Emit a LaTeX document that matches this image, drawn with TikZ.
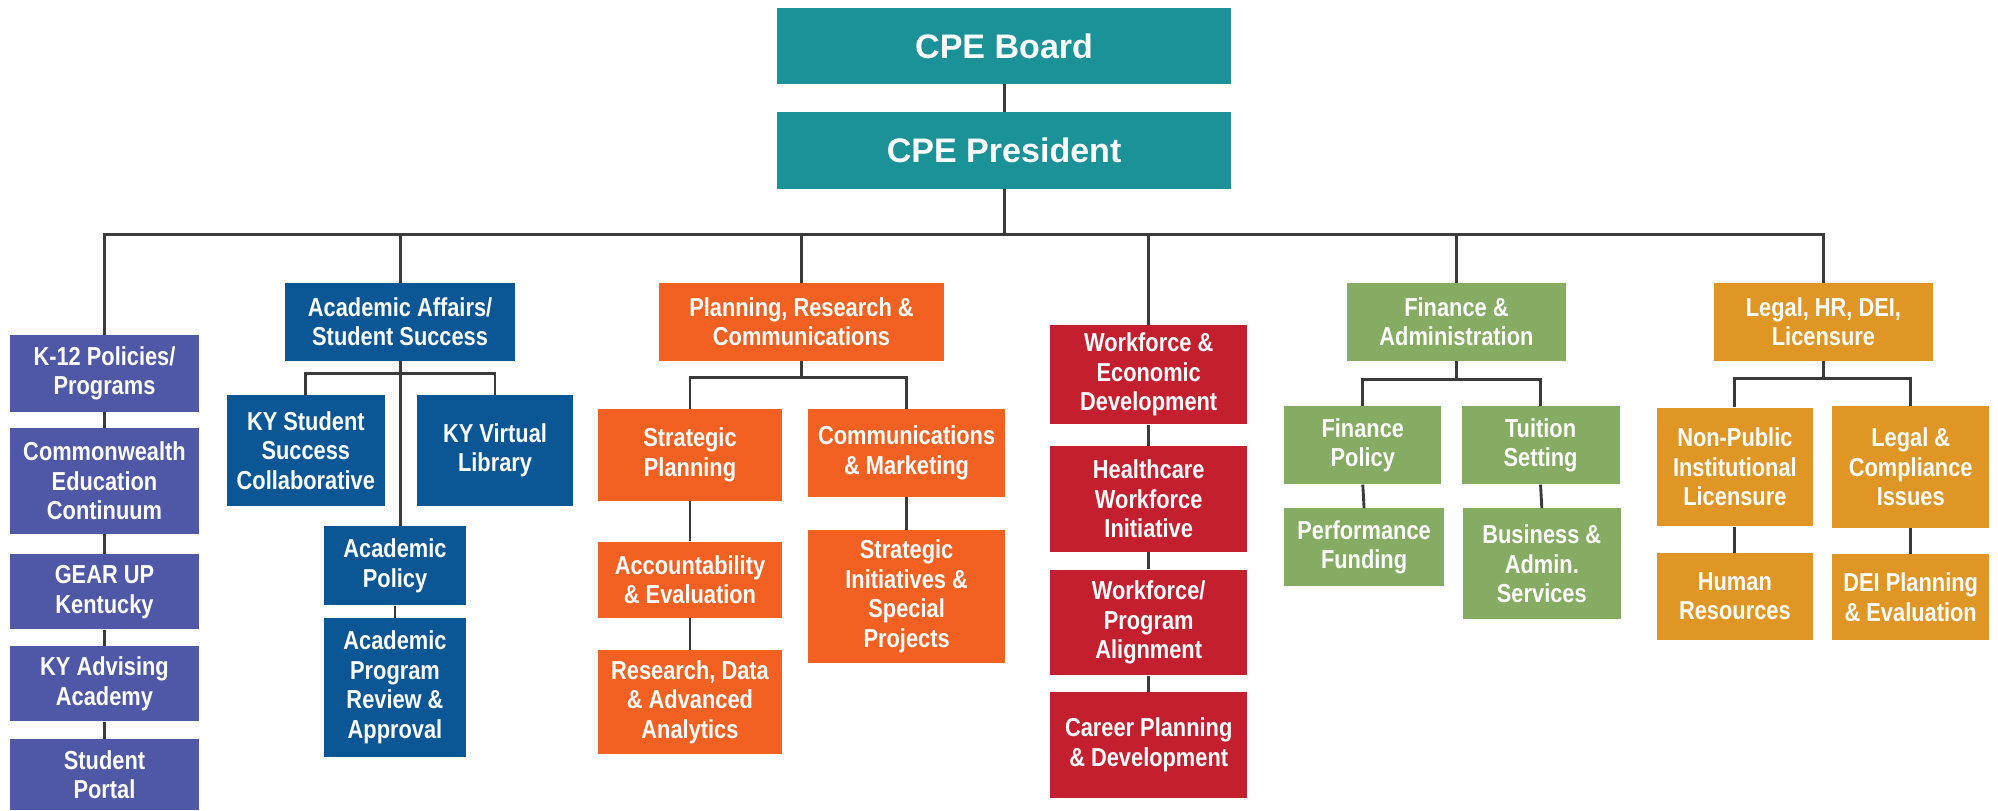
\documentclass[tikz,border=0pt]{standalone}
\usepackage{fontspec}
\setmainfont{Liberation Sans}[FakeStretch=0.84]
\newfontfamily\headfont{Liberation Sans}
\usepackage{tikz}
\usetikzlibrary{calc}
\definecolor{cpeTeal}{HTML}{1A9298}
\definecolor{cpePurple}{HTML}{4F58A6}
\definecolor{cpeBlue}{HTML}{0B5796}
\definecolor{cpeOrange}{HTML}{F26122}
\definecolor{cpeRed}{HTML}{C41F2F}
\definecolor{cpeGreen}{HTML}{86AC64}
\definecolor{cpeGold}{HTML}{E09624}
\definecolor{cpeLine}{HTML}{3A3A3A}
\tikzset{
  orgbox/.style={fill=#1, text=white, align=center, inner sep=0pt,
    font=\bfseries\fontsize{14.5}{16.5}\selectfont},
  orgline/.style={draw=cpeLine, line width=1.6pt},
}
% box from corner (x1,y1) to corner (x2,y2), picture units
\newcommand{\OrgBox}[7]{
	\def\bname{#1}
	\def\bfill{#2}
	\node[orgbox=\bfill, minimum width={(#5-#3)*0.025cm}, minimum height={(#6-#4)*0.025cm}]
	  (\bname) at ({(#3+#5)/2},{(#4+#6)/2}) {#7};
}

\begin{document}
\begin{tikzpicture}[x=0.025cm, y=-0.025cm]
  \useasboundingbox (0,0) rectangle (1568,636);

  \OrgBox{board}{cpeTeal}{610}{6}{966}{66}{\headfont\fontsize{19}{22}\selectfont CPE Board}
  \OrgBox{pres}{cpeTeal}{610}{88}{966}{148}{\headfont\fontsize{19}{22}\selectfont CPE President}

  % K-12 column
  \OrgBox{k12}{cpePurple}{8}{263}{156}{323}{K-12 Policies/\\Programs}
  \OrgBox{cec}{cpePurple}{8}{336}{156}{419}{Commonwealth\\Education\\Continuum}
  \OrgBox{gear}{cpePurple}{8}{435}{156}{494}{GEAR UP\\Kentucky}
  \OrgBox{kyaa}{cpePurple}{8}{507}{156}{566}{KY Advising\\Academy}
  \OrgBox{sport}{cpePurple}{8}{580}{156}{636}{Student\\Portal}

  % academic affairs
  \OrgBox{acad}{cpeBlue}{224}{222}{404}{283}{Academic Affairs/\\Student Success}
  \OrgBox{kyss}{cpeBlue}{178}{310}{302}{397}{KY Student\\Success\\Collaborative}
  \OrgBox{kyvl}{cpeBlue}{327}{310}{450}{397}{KY Virtual\\Library}
  \OrgBox{apol}{cpeBlue}{254}{413}{366}{475}{Academic\\Policy}
  \OrgBox{aprog}{cpeBlue}{254}{485}{366}{594}{Academic\\Program\\Review \&\\Approval}

  % planning
  \OrgBox{plan}{cpeOrange}{517}{222}{741}{283}{Planning, Research \&\\Communications}
  \OrgBox{strat}{cpeOrange}{469}{321}{614}{393}{Strategic\\Planning}
  \OrgBox{comm}{cpeOrange}{634}{321}{789}{390}{Communications\\\& Marketing}
  \OrgBox{acct}{cpeOrange}{469}{425}{614}{485}{Accountability\\\& Evaluation}
  \OrgBox{rda}{cpeOrange}{469}{510}{614}{592}{Research, Data\\\& Advanced\\Analytics}
  \OrgBox{sinit}{cpeOrange}{634}{416}{789}{520}{Strategic\\Initiatives \&\\Special\\Projects}

  % workforce
  \OrgBox{wfed}{cpeRed}{824}{255}{979}{333}{Workforce \&\\Economic\\Development}
  \OrgBox{hcwi}{cpeRed}{824}{350}{979}{433}{Healthcare\\Workforce\\Initiative}
  \OrgBox{wpa}{cpeRed}{824}{447}{979}{530}{Workforce/\\Program\\Alignment}
  \OrgBox{cpd}{cpeRed}{824}{543}{979}{626}{Career Planning\\\& Development}

  % finance
  \OrgBox{fin}{cpeGreen}{1057}{222}{1229}{283}{Finance \&\\Administration}
  \OrgBox{finpol}{cpeGreen}{1008}{319}{1131}{380}{Finance\\Policy}
  \OrgBox{tuit}{cpeGreen}{1147}{319}{1271}{380}{Tuition\\Setting}
  \OrgBox{perf}{cpeGreen}{1008}{399}{1133}{460}{Performance\\Funding}
  \OrgBox{bas}{cpeGreen}{1148}{399}{1272}{486}{Business \&\\Admin.\\Services}

  % legal
  \OrgBox{legal}{cpeGold}{1345}{222}{1517}{283}{Legal, HR, DEI,\\Licensure}
  \OrgBox{npil}{cpeGold}{1300}{320}{1423}{413}{Non-Public\\Institutional\\Licensure}
  \OrgBox{lci}{cpeGold}{1438}{319}{1561}{414}{Legal \&\\Compliance\\Issues}
  \OrgBox{hr}{cpeGold}{1300}{434}{1423}{502}{Human\\Resources}
  \OrgBox{dei}{cpeGold}{1438}{435}{1561}{502}{DEI Planning\\\& Evaluation}

  \coordinate (bus) at (0,184);
  \coordinate (acadbus) at (0,293);
  \coordinate (planbus) at (0,296);
  \coordinate (finbus) at (0,298);
  \coordinate (legalbus) at (0,297);

  \draw[orgline] (board) -- (pres);
  \foreach \n in {k12, acad, plan, wfed, fin, legal}
    \draw[orgline] (pres.south) |- (\n.north |- bus) -- (\n.north);

  \foreach \n in {kyss, kyvl}
    \draw[orgline] (acad.south) |- (\n.north |- acadbus) -- (\n.north);
  \draw[orgline] (acad.south) -- (acad.south |- apol.north);
  \foreach \n in {strat, comm}
    \draw[orgline] (plan.south) |- (\n.north |- planbus) -- (\n.north);
  \foreach \n in {finpol, tuit}
    \draw[orgline] (fin.south) |- (\n.north |- finbus) -- (\n.north);
  \foreach \n in {npil, lci}
    \draw[orgline] (legal.south) |- (\n.north |- legalbus) -- (\n.north);

  \foreach \a/\b in {k12/cec, cec/gear, gear/kyaa, kyaa/sport, apol/aprog,
    strat/acct, acct/rda, comm/sinit, wfed/hcwi, hcwi/wpa, wpa/cpd,
    finpol/perf, tuit/bas, npil/hr, lci/dei}
    \draw[orgline] (\a.south) -- (\b.north);
\end{tikzpicture}
\end{document}
